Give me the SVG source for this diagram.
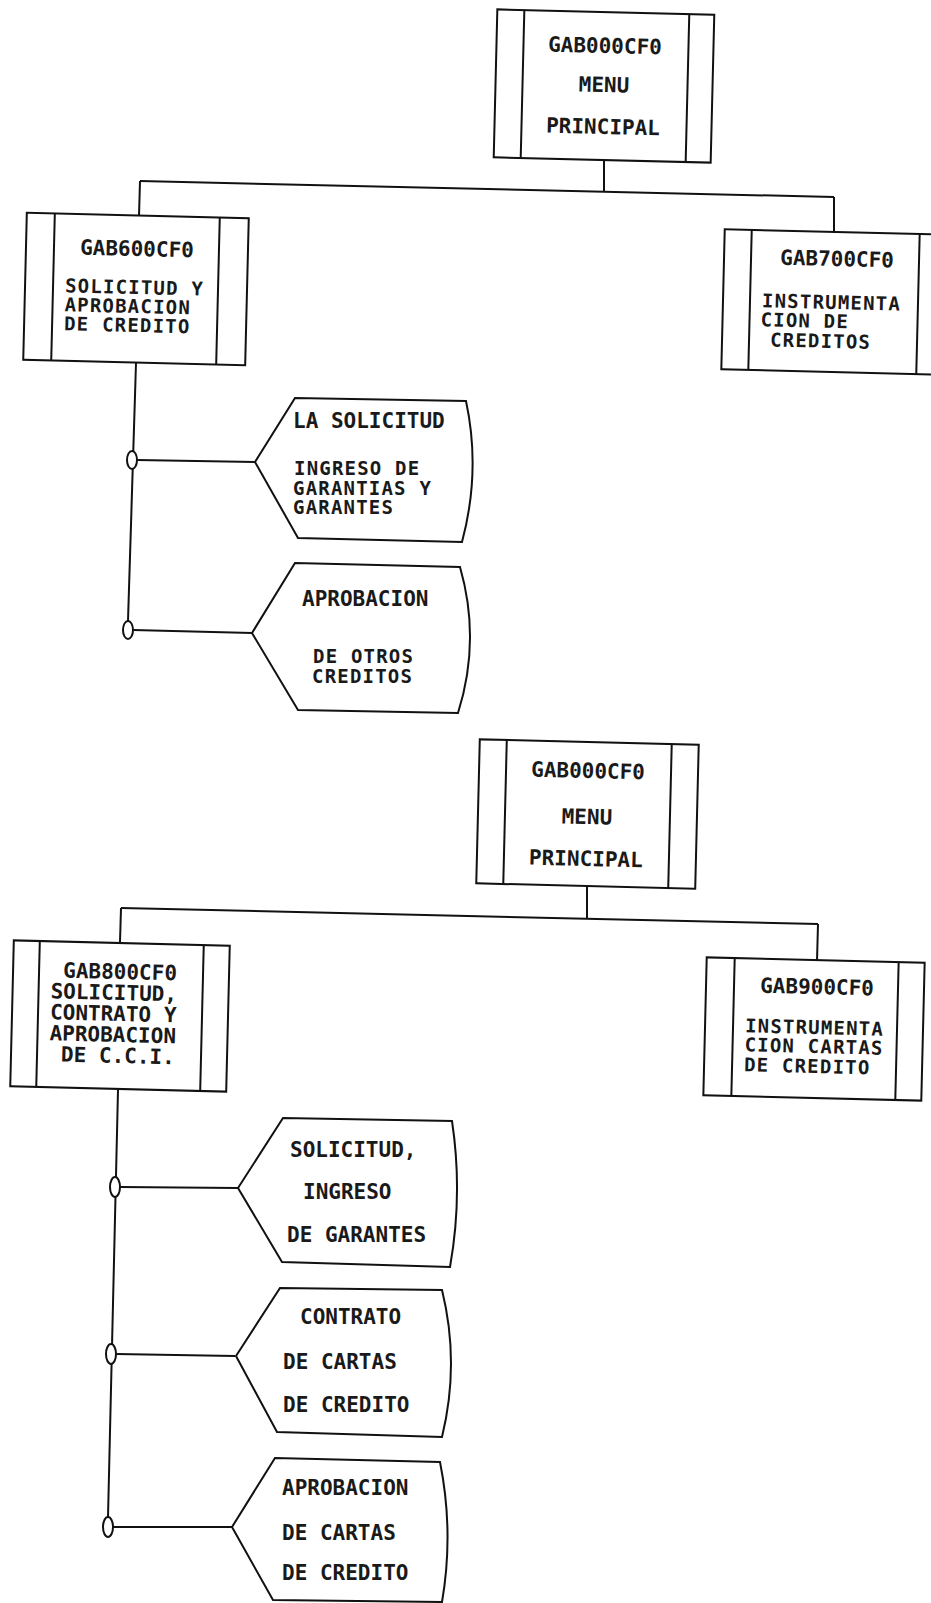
<svg xmlns="http://www.w3.org/2000/svg" width="931" height="1603" viewBox="0 0 931 1603">
<style>
.bx{fill:none;stroke:#111;stroke-width:2}
.ln{fill:none;stroke:#111;stroke-width:2}
.pt{fill:#fff;stroke:#111;stroke-width:2}
.ov{fill:#fff;stroke:#111;stroke-width:2}
text{font-family:"DejaVu Sans Mono","Liberation Mono",monospace;font-weight:bold;font-size:21px;fill:#1a1a1a}
.c{text-anchor:middle}
.t{font-size:19px;letter-spacing:1.2px}
</style>
<rect x="0" y="0" width="931" height="1603" fill="#fff"/>

<g id="connectors">
  <!-- section 1 -->
  <line class="ln" x1="604" y1="160" x2="604" y2="191"/>
  <line class="ln" x1="140" y1="181" x2="834" y2="197"/>
  <line class="ln" x1="140" y1="181" x2="139" y2="216"/>
  <line class="ln" x1="834" y1="197" x2="834" y2="233"/>
  <line class="ln" x1="136" y1="363" x2="128" y2="621"/>
  <line class="ln" x1="137" y1="460" x2="255" y2="462"/>
  <line class="ln" x1="133" y1="630" x2="252" y2="633"/>
  <ellipse class="ov" cx="132" cy="460" rx="5" ry="9"/>
  <ellipse class="ov" cx="128" cy="630" rx="5" ry="9"/>
  <!-- section 2 -->
  <line class="ln" x1="587" y1="887" x2="587" y2="919"/>
  <line class="ln" x1="121" y1="908" x2="818" y2="924"/>
  <line class="ln" x1="121" y1="908" x2="120" y2="942"/>
  <line class="ln" x1="818" y1="924" x2="817" y2="961"/>
  <line class="ln" x1="118" y1="1090" x2="108" y2="1517"/>
  <line class="ln" x1="120" y1="1187" x2="238" y2="1188"/>
  <line class="ln" x1="116" y1="1354" x2="235" y2="1356"/>
  <line class="ln" x1="113" y1="1527" x2="232" y2="1527"/>
  <ellipse class="ov" cx="115" cy="1187" rx="5" ry="10"/>
  <ellipse class="ov" cx="111" cy="1354" rx="5" ry="10"/>
  <ellipse class="ov" cx="108" cy="1527" rx="5" ry="10"/>
</g>

<g id="node-gab000-1" transform="rotate(1.4 604 86)">
  <rect class="bx" x="495.5" y="12" width="217" height="148"/>
  <line class="bx" x1="522.5" y1="12" x2="522.5" y2="160"/>
  <line class="bx" x1="687.5" y1="12" x2="687.5" y2="160"/>
  <text class="c" x="604" y="53">GAB000CF0</text>
  <text class="c" x="604" y="92">MENU</text>
  <text class="c" x="604" y="134">PRINCIPAL</text>
</g>

<g id="node-gab600" transform="rotate(1.4 136 289)">
  <rect class="bx" x="25" y="215.5" width="222" height="147"/>
  <line class="bx" x1="53" y1="215.5" x2="53" y2="362.5"/>
  <line class="bx" x1="218" y1="215.5" x2="218" y2="362.5"/>
  <text class="c" x="136" y="256">GAB600CF0</text>
  <text class="t" x="65" y="294">SOLICITUD Y</text>
  <text class="t" x="65" y="313">APROBACION</text>
  <text class="t" x="65" y="332">DE CREDITO</text>
</g>

<g id="node-gab700" transform="rotate(1.4 834 302)">
  <rect class="bx" x="723" y="232" width="222" height="140"/>
  <line class="bx" x1="750" y1="232" x2="750" y2="372"/>
  <line class="bx" x1="918" y1="232" x2="918" y2="372"/>
  <text class="c" x="836" y="266">GAB700CF0</text>
  <text class="t" x="762" y="309">INSTRUMENTA</text>
  <text class="t" x="761" y="328">CION DE</text>
  <text class="t" x="771" y="348">CREDITOS</text>
</g>

<g id="node-solicitud">
  <path class="pt" d="M255 462 L295 398 L466 401 Q481 471 462 542 L298 538 Z"/>
  <text x="293" y="428">LA SOLICITUD</text>
  <text class="t" x="294" y="475">INGRESO DE</text>
  <text class="t" x="293" y="494.5">GARANTIAS Y</text>
  <text class="t" x="293" y="514">GARANTES</text>
</g>

<g id="node-aprobacion-otros">
  <path class="pt" d="M252 633 L295 563 L460 567 Q481 640 458 713 L298 710 Z"/>
  <text x="302" y="606">APROBACION</text>
  <text class="t" x="313" y="663">DE OTROS</text>
  <text class="t" x="312" y="683">CREDITOS</text>
</g>

<g id="node-gab000-2" transform="rotate(1.4 587 814)">
  <rect class="bx" x="478" y="742" width="219" height="144"/>
  <line class="bx" x1="505" y1="742" x2="505" y2="886"/>
  <line class="bx" x1="670" y1="742" x2="670" y2="886"/>
  <text class="c" x="587" y="778">GAB000CF0</text>
  <text class="c" x="587" y="824">MENU</text>
  <text class="c" x="587" y="866">PRINCIPAL</text>
</g>

<g id="node-gab800" transform="rotate(1.4 120 1016)">
  <rect class="bx" x="12" y="943" width="216" height="146"/>
  <line class="bx" x1="38" y1="943" x2="38" y2="1089"/>
  <line class="bx" x1="202" y1="943" x2="202" y2="1089"/>
  <text class="c" x="119" y="979">GAB800CF0</text>
  <text x="50" y="1000">SOLICITUD,</text>
  <text x="50" y="1021">CONTRATO Y</text>
  <text x="50" y="1042">APROBACION</text>
  <text x="62" y="1063">DE C.C.I.</text>
</g>

<g id="node-gab900" transform="rotate(1.4 814 1029)">
  <rect class="bx" x="705" y="960" width="218" height="138"/>
  <line class="bx" x1="733" y1="960" x2="733" y2="1098"/>
  <line class="bx" x1="897" y1="960" x2="897" y2="1098"/>
  <text class="c" x="816" y="994">GAB900CF0</text>
  <text class="t" x="745" y="1034">INSTRUMENTA</text>
  <text class="t" x="745" y="1053">CION CARTAS</text>
  <text class="t" x="745" y="1073">DE CREDITO</text>
</g>

<g id="node-solicitud-garantes">
  <path class="pt" d="M238 1188 L283 1118 L452 1121 Q463 1194 450 1267 L282 1262 Z"/>
  <text x="290" y="1157">SOLICITUD,</text>
  <text x="303" y="1199">INGRESO</text>
  <text x="287" y="1242">DE GARANTES</text>
</g>

<g id="node-contrato">
  <path class="pt" d="M236 1356 L280 1288 L442 1290 Q460 1363 442 1437 L277 1432 Z"/>
  <text x="300" y="1324">CONTRATO</text>
  <text x="283" y="1369">DE CARTAS</text>
  <text x="283" y="1412">DE CREDITO</text>
</g>

<g id="node-aprobacion-cartas">
  <path class="pt" d="M232 1527 L275 1458 L440 1462 Q454 1532 442 1602 L273 1600 Z"/>
  <text x="282" y="1495">APROBACION</text>
  <text x="282" y="1540">DE CARTAS</text>
  <text x="282" y="1580">DE CREDITO</text>
</g>
</svg>
